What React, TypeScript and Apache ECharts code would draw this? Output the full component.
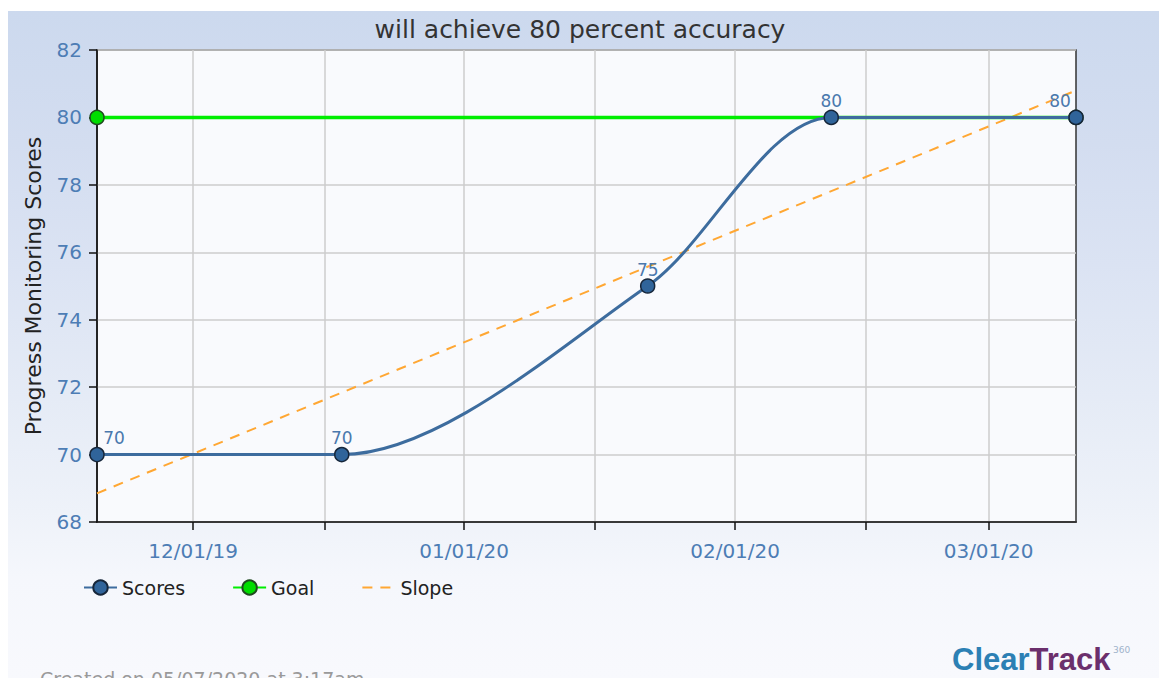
import React, { useEffect, useRef } from 'react';
import * as echarts from 'echarts';

// ---- data ----
const scoreDates = ['2019-11-20', '2019-12-18', '2020-01-22', '2020-02-12', '2020-03-11'];
const scoreValues = [70, 70, 75, 80, 80];
const goalDates = ['2019-11-20', '2020-03-11'];
const goalValues = [80, 80];
const slopeDates = ['2019-11-20', '2020-03-11'];
const slopeValues = [68.85, 80.8];
const tickDates = ['2019-12-01', '2019-12-16', '2020-01-01', '2020-01-16', '2020-02-01', '2020-02-16', '2020-03-01'];
const labelDates = ['2019-12-01', '2020-01-01', '2020-02-01', '2020-03-01'];
const axisStart = '2019-11-20';
const axisEnd = '2020-03-11';
const yMin = 68;
const yMax = 82;
const yStep = 2;
const seriesNames = ['Scores', 'Goal', 'Slope'];
const titleText = 'will achieve 80 percent accuracy';
const yAxisName = 'Progress Monitoring Scores';
const footerText = 'Created on 05/07/2020 at 3:17am';

const ts = (d: string) => Date.parse(d + 'T00:00:00Z');
const fmt = (v: number) => {
  const d = new Date(v);
  const mm = String(d.getUTCMonth() + 1).padStart(2, '0');
  const dd = String(d.getUTCDate()).padStart(2, '0');
  const yy = String(d.getUTCFullYear() % 100).padStart(2, '0');
  return `${mm}/${dd}/${yy}`;
};

const FONT = 'DejaVu Sans';

export default function App() {
  const ref = useRef<HTMLDivElement>(null);
  useEffect(() => {
    if (!ref.current) return;
    const chart = echarts.init(ref.current, undefined, { renderer: 'svg' });
    const last = scoreDates.length - 1;
    const scoreData = scoreDates.map((d, i) => {
      const item: any = { value: [ts(d), scoreValues[i]] };
      if (i === 0) item.label = { offset: [17, 0] };
      if (i === last) item.label = { offset: [-16, 0] };
      return item;
    });
    chart.setOption({
      animation: false,
      backgroundColor: 'transparent',
      title: {
        text: titleText,
        left: 572,
        textAlign: 'center',
        top: 6,
        padding: 0,
        textStyle: { fontFamily: FONT, fontSize: 25, fontWeight: 'normal', color: '#333' },
      },
      legend: {
        left: 75,
        top: 567,
        padding: 0,
        itemWidth: 33,
        itemHeight: 18,
        itemGap: 47,
        data: [
          { name: seriesNames[0] },
          { name: seriesNames[1] },
          { name: seriesNames[2], itemStyle: { opacity: 0 } },
        ],
        textStyle: { fontFamily: FONT, fontSize: 19, color: '#222' },
      },
      grid: {
        left: 89,
        top: 39,
        right: 83,
        bottom: 156,
        show: true,
        backgroundColor: '#f9fafd',
        borderColor: '#333',
        borderWidth: 1.5,
      },
      xAxis: {
        type: 'value',
        min: ts(axisStart),
        max: ts(axisEnd),
        axisLine: { show: true, lineStyle: { color: '#111', width: 1.5 } },
        axisTick: {
          show: true,
          length: 8,
          customValues: tickDates.map(ts),
          lineStyle: { color: '#111', width: 1.5 },
        },
        axisLabel: {
          customValues: labelDates.map(ts),
          formatter: (v: number) => fmt(v),
          color: '#4d7db5',
          fontFamily: FONT,
          fontSize: 20,
          margin: 19,
        },
        splitLine: { show: true, lineStyle: { color: '#cdcdcd', width: 1.5 } },
      },
      yAxis: {
        type: 'value',
        min: yMin,
        max: yMax,
        interval: yStep,
        name: yAxisName,
        nameLocation: 'middle',
        nameGap: 53,
        nameTextStyle: { fontFamily: FONT, fontSize: 22, color: '#222' },
        axisLine: { show: true, lineStyle: { color: '#111', width: 1.5 } },
        axisTick: { show: true, length: 8, lineStyle: { color: '#111', width: 1.5 } },
        axisLabel: { color: '#4d7db5', fontFamily: FONT, fontSize: 20, margin: 15 },
        splitLine: { show: true, lineStyle: { color: '#cdcdcd', width: 1.5 } },
      },
      series: [
        {
          name: seriesNames[0],
          type: 'line',
          z: 4,
          smooth: 0.3,
          data: scoreData,
          symbol: 'circle',
          symbolSize: 14,
          lineStyle: { color: '#3d6c9e', width: 3 },
          itemStyle: { color: '#30649a', borderColor: '#16263a', borderWidth: 1.5 },
          label: {
            show: true,
            position: 'top',
            distance: 0,
            color: '#4a78ad',
            fontFamily: FONT,
            fontSize: 17,
          },
        },
        {
          name: seriesNames[1],
          type: 'line',
          z: 3,
          data: goalDates.map((d, i) => [ts(d), goalValues[i]]),
          symbol: 'circle',
          symbolSize: 14,
          lineStyle: { color: '#00ee00', width: 3.5 },
          itemStyle: { color: '#00dd00', borderColor: '#1f4a1f', borderWidth: 1.5 },
        },
        {
          name: seriesNames[2],
          type: 'line',
          z: 2,
          data: slopeDates.map((d, i) => [ts(d), slopeValues[i]]),
          symbol: 'none',
          lineStyle: { color: '#ffa733', width: 2, type: [10, 8] },
          itemStyle: { color: '#ffa733' },
        },
      ],
      graphic: [
        {
          type: 'text',
          left: 32,
          top: 658,
          style: { text: footerText, fontFamily: FONT, fontSize: 19, fill: '#9a9a9a' },
        },
        {
          type: 'text',
          x: 944,
          y: 633,
          style: {
            text: '{c|Clear}{t|Track}',
            rich: {
              c: { fontFamily: 'Liberation Sans', fontWeight: 'bold', fontSize: 31, fill: '#2c80b4' },
              t: { fontFamily: 'Liberation Sans', fontWeight: 'bold', fontSize: 31, fill: '#6b2f6c' },
            },
          },
        },
        {
          type: 'text',
          x: 1105,
          y: 634,
          style: { text: '360', fontFamily: FONT, fontSize: 9, fill: '#9fb3cb' },
        },
      ],
    });
    return () => chart.dispose();
  }, []);
  return (
    <div
      ref={ref}
      style={{
        position: 'fixed',
        left: 8,
        top: 11,
        width: 1151,
        height: 667,
        background:
          'linear-gradient(to bottom, #ccd9ee 0%, #d3ddf0 20%, #dbe3f3 38%, #e5ebf6 58%, #eef2f9 75%, #f5f7fc 85%, #f8f9fd 100%)',
      }}
    />
  );
}
